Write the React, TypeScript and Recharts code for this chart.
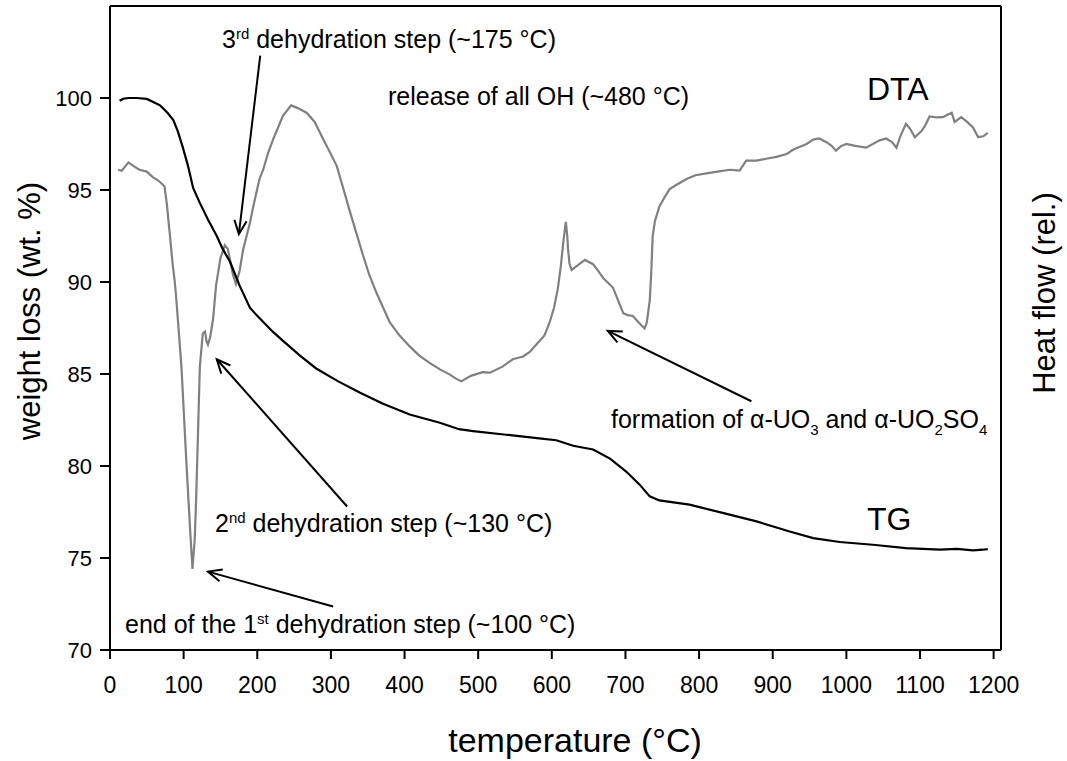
import { LineChart, Line, XAxis, YAxis, ReferenceLine } from "recharts";

// TG curve (weight loss, wt. %)
const tgTemp = [13, 18, 25, 36, 50, 68, 78, 86, 92, 99, 106, 113, 122, 133, 145, 153, 163, 176, 190, 199, 221, 235, 258, 280, 310, 339, 370, 407, 448, 474, 493, 538, 583, 606, 629, 656, 679, 701, 719, 733, 746, 787, 832, 878, 923, 955, 991, 1036, 1081, 1127, 1150, 1172, 1185, 1192];
const tgWeight = [99.85, 99.96, 100.0, 100.0, 99.95, 99.6, 99.2, 98.8, 98.2, 97.3, 96.3, 95.1, 94.3, 93.4, 92.5, 91.8, 91.1, 89.8, 88.6, 88.2, 87.3, 86.8, 86.0, 85.3, 84.6, 84.0, 83.4, 82.8, 82.35, 82.0, 81.9, 81.7, 81.5, 81.4, 81.1, 80.9, 80.4, 79.7, 79.0, 78.35, 78.13, 77.9, 77.45, 76.99, 76.44, 76.08, 75.87, 75.72, 75.54, 75.45, 75.5, 75.41, 75.45, 75.48];

// DTA curve (heat flow, relative)
const dtaTemp = [11, 16, 25, 32, 40, 50, 58, 66, 74, 77, 81, 85, 88, 90, 97, 104, 109, 112, 115, 117, 120, 122, 126, 129, 131, 133, 136, 140, 144, 150, 156, 160, 163, 167, 171, 176, 181, 190, 194, 203, 208, 215, 222, 235, 246, 255, 267, 278, 289, 298, 308, 316, 326, 335, 344, 352, 362, 371, 380, 393, 407, 420, 434, 448, 461, 470, 477, 490, 506, 516, 533, 547, 561, 570, 579, 590, 597, 603, 608, 612, 616, 619, 621, 622, 624, 627, 635, 645, 656, 663, 670, 683, 690, 697, 703, 710, 718, 726, 729, 733, 735, 737, 740, 746, 753, 760, 770, 783, 795, 810, 825, 842, 855, 864, 878, 891, 905, 919, 928, 946, 955, 963, 973, 980, 986, 993, 1000, 1012, 1027, 1045, 1054, 1062, 1068, 1074, 1081, 1087, 1093, 1102, 1107, 1113, 1122, 1131, 1138, 1143, 1147, 1156, 1164, 1172, 1179, 1186, 1192];
const dtaHeat = [96.1, 96.05, 96.5, 96.3, 96.1, 96.0, 95.7, 95.5, 95.2, 94.3, 92.7, 91.0, 90.0, 89.1, 85.4, 80.0, 76.4, 74.4, 76.0, 78.2, 82.5, 85.4, 87.2, 87.3, 86.8, 86.6, 87.0, 88.0, 89.8, 91.3, 92.0, 91.8, 91.2, 90.4, 89.9, 90.6, 91.8, 93.2, 94.0, 95.6, 96.1, 97.05, 97.8, 99.05, 99.6, 99.45, 99.2, 98.7, 97.8, 97.1, 96.3, 95.2, 93.8, 92.6, 91.4, 90.4, 89.4, 88.6, 87.8, 87.1, 86.5, 86.0, 85.6, 85.25, 84.98, 84.75, 84.6, 84.9, 85.1, 85.07, 85.4, 85.8, 85.95, 86.2, 86.6, 87.1, 87.8, 88.6, 89.6, 90.8, 92.3, 93.27, 92.5, 91.8, 91.0, 90.66, 90.9, 91.2, 90.97, 90.6, 90.2, 89.7, 89.0, 88.3, 88.2, 88.15, 87.8, 87.47, 87.8, 89.0, 90.5, 92.5, 93.3, 94.1, 94.6, 95.05, 95.3, 95.6, 95.8, 95.9, 96.0, 96.1, 96.05, 96.6, 96.6, 96.7, 96.8, 96.96, 97.2, 97.5, 97.74, 97.8, 97.6, 97.4, 97.14, 97.4, 97.5, 97.4, 97.3, 97.7, 97.8, 97.6, 97.3, 98.0, 98.6, 98.3, 97.87, 98.2, 98.5, 99.0, 98.95, 98.96, 99.1, 99.2, 98.7, 98.96, 98.7, 98.4, 97.87, 97.92, 98.1];

const xTicks = [0, 100, 200, 300, 400, 500, 600, 700, 800, 900, 1000, 1100, 1200];
const yTicks = [70, 75, 80, 85, 90, 95, 100];

// annotation arrows: [fromT, fromV, toT, toV]
const arrows = [
  [204, 102.3, 175, 92.6],
  [322, 77.8, 145, 85.8],
  [303, 72.36, 133, 74.26],
  [871, 83.52, 676, 87.34],
];

const tgData = tgTemp.map((t, i) => ({ t, w: tgWeight[i] }));
const dtaData = dtaTemp.map((t, i) => ({ t, h: dtaHeat[i] }));

const font = "'Liberation Sans', Arial, sans-serif";

function Arrow(props: any) {
  const { x1, y1, x2, y2 } = props;
  const a = Math.atan2(y2 - y1, x2 - x1);
  const len = 15;
  const spread = 0.42;
  const p1 = [x2 - len * Math.cos(a - spread), y2 - len * Math.sin(a - spread)];
  const p2 = [x2 - len * Math.cos(a + spread), y2 - len * Math.sin(a + spread)];
  return (
    <g stroke="#000" strokeWidth={2} fill="none">
      <line x1={x1} y1={y1} x2={x2} y2={y2} />
      <polyline points={`${p1[0]},${p1[1]} ${x2},${y2} ${p2[0]},${p2[1]}`} />
    </g>
  );
}

export default function App() {
  return (
    <div style={{ position: "absolute", left: 0, top: 0, width: 1067, height: 761, background: "#fff", fontFamily: font }}>
      <LineChart width={1067} height={761} data={tgData} margin={{ top: 6, right: 0, bottom: 0, left: 0 }}>
        <XAxis
          type="number"
          dataKey="t"
          domain={[0, 1210]}
          ticks={xTicks}
          allowDataOverflow
          height={111}
          tickSize={9}
          tickMargin={18}
          tick={{ fill: "#000", fontSize: 23, fontFamily: font }}
          tickLine={{ stroke: "#000", strokeWidth: 2 }}
          axisLine={{ stroke: "#000", strokeWidth: 2 }}
        />
        <YAxis
          yAxisId="left"
          type="number"
          domain={[70, 105]}
          ticks={yTicks}
          allowDataOverflow
          width={110}
          tickSize={10}
          tickMargin={8}
          tick={{ fill: "#000", fontSize: 22, fontFamily: font }}
          tickLine={{ stroke: "#000", strokeWidth: 2 }}
          axisLine={{ stroke: "#000", strokeWidth: 2 }}
        />
        <YAxis
          yAxisId="right"
          orientation="right"
          type="number"
          domain={[70, 105]}
          allowDataOverflow
          width={66}
          tick={false}
          tickLine={false}
          axisLine={{ stroke: "#000", strokeWidth: 2 }}
        />
        <ReferenceLine yAxisId="left" y={105} stroke="#000" strokeWidth={2} />
        <Line data={dtaData} yAxisId="right" dataKey="h" type="linear" stroke="#808080" strokeWidth={2.2} dot={false} isAnimationActive={false} />
        <Line data={tgData} yAxisId="left" dataKey="w" type="linear" stroke="#000" strokeWidth={2.2} dot={false} isAnimationActive={false} />
        {arrows.map((a, i) => (
          <ReferenceLine
            key={i}
            yAxisId="left"
            segment={[{ x: a[0], y: a[1] }, { x: a[2], y: a[3] }]}
            shape={(p: any) => <Arrow {...p} />}
          />
        ))}
      </LineChart>
      <svg width={1067} height={761} style={{ position: "absolute", left: 0, top: 0, pointerEvents: "none" }} fontFamily={font} fill="#000">
        <text x={222} y={48} fontSize={25}>
          3<tspan dy={-9} fontSize={15}>rd</tspan>
          <tspan dy={9}> dehydration step (~175 °C)</tspan>
        </text>
        <text x={388} y={105} fontSize={25}>release of all OH (~480 °C)</text>
        <text x={215} y={532} fontSize={25}>
          2<tspan dy={-9} fontSize={15}>nd</tspan>
          <tspan dy={9}> dehydration step (~130 °C)</tspan>
        </text>
        <text x={125} y={633} fontSize={25}>
          end of the 1<tspan dy={-9} fontSize={15}>st</tspan>
          <tspan dy={9}> dehydration step (~100 °C)</tspan>
        </text>
        <text x={611} y={428} fontSize={25}>
          formation of α-UO<tspan dy={7} fontSize={15}>3</tspan>
          <tspan dy={-7}> and α-UO</tspan>
          <tspan dy={7} fontSize={15}>2</tspan>
          <tspan dy={-7}>SO</tspan>
          <tspan dy={7} fontSize={15}>4</tspan>
        </text>
        <text x={867} y={100} fontSize={32}>DTA</text>
        <text x={867} y={530} fontSize={32}>TG</text>
        <text x={575} y={752} fontSize={34} textAnchor="middle">temperature (°C)</text>
        <text transform="translate(40,311) rotate(-90)" fontSize={31} textAnchor="middle">weight loss (wt. %)</text>
        <text transform="translate(1055,293) rotate(-90)" fontSize={31} textAnchor="middle">Heat flow (rel.)</text>
      </svg>
    </div>
  );
}
